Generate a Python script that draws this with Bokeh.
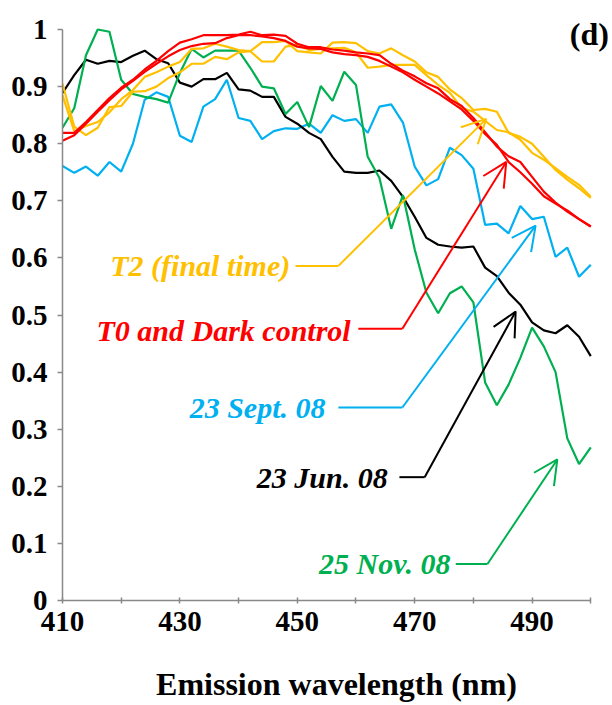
from bokeh.plotting import figure
from bokeh.models import Range1d, FixedTicker, Label, Arrow, OpenHead
from bokeh.embed import file_html
from bokeh.resources import INLINE

# ---------------- data ----------------
wavelength = [410, 412, 414, 416, 418, 420, 422, 424, 426, 428, 430, 432, 434, 436, 438,
              440, 442, 444, 446, 448, 450, 452, 454, 456, 458, 460, 462, 464, 466, 468,
              470, 472, 474, 476, 478, 480, 482, 484, 486, 488, 490, 492, 494, 496, 498, 500]

sept_23 = [0.761, 0.749, 0.760, 0.744, 0.768, 0.751,
           0.800, 0.877, 0.890, 0.882, 0.814, 0.803, 0.865, 0.878, 0.912, 0.845,
           0.840, 0.808, 0.822, 0.827, 0.826, 0.835, 0.819, 0.850, 0.840, 0.843,
           0.819, 0.865, 0.869, 0.837, 0.760, 0.727, 0.738, 0.793, 0.780, 0.756,
           0.658, 0.660, 0.643, 0.691, 0.668, 0.672, 0.602, 0.618, 0.567, 0.588]

jun_23 = [0.889, 0.920, 0.947, 0.940, 0.945, 0.943,
          0.954, 0.963, 0.948, 0.941, 0.907, 0.900, 0.913, 0.913, 0.924, 0.895,
          0.893, 0.882, 0.882, 0.847, 0.835, 0.819, 0.808, 0.777, 0.751, 0.749,
          0.749, 0.753, 0.735, 0.707, 0.672, 0.635, 0.623, 0.620, 0.618, 0.620,
          0.583, 0.568, 0.539, 0.518, 0.487, 0.473, 0.468, 0.482, 0.462, 0.428]

nov_25 = [0.828, 0.862, 0.955, 1.000, 0.996, 0.912,
          0.887, 0.882, 0.878, 0.872, 0.924, 0.966, 0.951, 0.963, 0.963, 0.963,
          0.933, 0.900, 0.897, 0.852, 0.873, 0.829, 0.901, 0.875, 0.926, 0.903,
          0.777, 0.740, 0.651, 0.710, 0.615, 0.539, 0.503, 0.538, 0.550, 0.522,
          0.382, 0.342, 0.378, 0.425, 0.478, 0.445, 0.400, 0.284, 0.239, 0.268]

t0 = [0.819, 0.819, 0.838, 0.859, 0.880, 0.898,
      0.912, 0.930, 0.945, 0.962, 0.977, 0.983, 0.990, 0.990, 0.990, 0.991,
      0.996, 0.990, 0.991, 0.989, 0.975, 0.969, 0.969, 0.965, 0.963, 0.960,
      0.958, 0.955, 0.940, 0.928, 0.918, 0.906, 0.897, 0.878, 0.866, 0.845,
      0.820, 0.795, 0.778, 0.768, 0.742, 0.716, 0.697, 0.681, 0.668, 0.655]

dark_control = [0.805, 0.815, 0.835, 0.856, 0.876, 0.895,
                0.910, 0.926, 0.940, 0.953, 0.964, 0.971, 0.975, 0.976, 0.985, 0.990,
                0.990, 0.988, 0.985, 0.980, 0.970, 0.967, 0.966, 0.960, 0.957, 0.955,
                0.952, 0.945, 0.935, 0.925, 0.912, 0.900, 0.888, 0.874, 0.860, 0.840,
                0.817, 0.798, 0.768, 0.750, 0.730, 0.708, 0.695, 0.683, 0.668, 0.655]

t2_a = [0.905, 0.830, 0.815, 0.828, 0.864, 0.866,
        0.891, 0.892, 0.900, 0.915, 0.925, 0.940, 0.940, 0.952, 0.948, 0.960,
        0.962, 0.978, 0.978, 0.980, 0.962, 0.960, 0.958, 0.977, 0.978, 0.976,
        0.962, 0.958, 0.967, 0.955, 0.944, 0.925, 0.917, 0.895, 0.880, 0.859,
        0.861, 0.856, 0.819, 0.812, 0.800, 0.777, 0.754, 0.737, 0.722, 0.705]

t2_b = [0.885, 0.822, 0.831, 0.838, 0.855, 0.878,
        0.894, 0.917, 0.925, 0.935, 0.943, 0.966, 0.967, 0.975, 0.970, 0.964,
        0.962, 0.944, 0.944, 0.970, 0.973, 0.964, 0.966, 0.967, 0.968, 0.960,
        0.933, 0.935, 0.938, 0.938, 0.938, 0.920, 0.903, 0.889, 0.863, 0.856,
        0.840, 0.824, 0.820, 0.807, 0.784, 0.772, 0.757, 0.742, 0.728, 0.707]

x_ticks = [410, 420, 430, 440, 450, 460, 470, 480, 490, 500]
x_tick_labels = ["410", "", "430", "", "450", "", "470", "", "490", ""]
y_ticks = [0, 0.1, 0.2, 0.3, 0.4, 0.5, 0.6, 0.7, 0.8, 0.9, 1]
y_tick_labels = ["0", "0.1", "0.2", "0.3", "0.4", "0.5", "0.6", "0.7", "0.8", "0.9", "1"]

# annotation texts: (text, colour, text right x, baseline y, leader start x, corner x, leader y, tip x, tip y)
annotations = [
    ("T2 (final time)", "#FFC000", 448.8, 0.586, 449.7, 457.0, 0.586, 482.2, 0.8435),
    ("T0 and Dark control", "#FF0000", 459.1, 0.473, 460.4, 467.9, 0.476, 485.6, 0.768),
    ("23 Sept. 08", "#00B0F0", 454.8, 0.338, 457.0, 467.9, 0.338, 490.6, 0.6565),
    ("23 Jun. 08", "#000000", 465.4, 0.216, 467.4, 471.7, 0.216, 487.2, 0.506),
    ("25 Nov. 08", "#00B050", 476.1, 0.064, 477.0, 482.4, 0.064, 494.3, 0.247),
]
panel_tag = ("(d)", 503.1, 0.993)

FONT = "Liberation Serif"

p = figure(width=612, height=705, output_backend="svg", toolbar_location=None,
           x_range=Range1d(410, 503.36), y_range=Range1d(0, 1.0508),
           min_border_left=62, min_border_right=2, min_border_top=0, min_border_bottom=105)
p.outline_line_color = None
p.xgrid.visible = False
p.ygrid.visible = False
p.background_fill_color = "white"
p.border_fill_color = "white"

series = [
    (sept_23, "#00B0F0"),
    (jun_23, "#000000"),
    (nov_25, "#00B050"),
    (t2_a, "#FFC000"),
    (t2_b, "#FFC000"),
    (t0, "#FF0000"),
    (dark_control, "#FF0000"),
]
for ys, col in series:
    p.line(wavelength, ys, line_color=col, line_width=2.2)

for (txt, col, tx, ty, sx, cx, ly, ax, ay) in annotations:
    p.add_layout(Label(x=tx, y=ty, text=txt, text_color=col, text_font=FONT,
                       text_font_size="30px", text_font_style="bold italic",
                       text_align="right", text_baseline="alphabetic"))
    p.line([sx, cx], [ly, ly], line_color=col, line_width=2)
    p.add_layout(Arrow(x_start=cx, y_start=ly, x_end=ax, y_end=ay,
                       line_color=col, line_width=2,
                       end=OpenHead(size=24, line_color=col, line_width=2)))

p.add_layout(Label(x=panel_tag[1], y=panel_tag[2], text=panel_tag[0], text_color="black",
                   text_font=FONT, text_font_size="32px", text_font_style="bold",
                   text_align="right", text_baseline="alphabetic"))

axis_col = "#898989"
xa = p.xaxis[0]
xa.bounds = (410, 500)
xa.ticker = FixedTicker(ticks=x_ticks)
xa.major_label_overrides = {t: l for t, l in zip(x_ticks, x_tick_labels)}
xa.minor_tick_line_color = None
xa.major_tick_in = 3
xa.major_tick_out = 3
xa.axis_line_color = axis_col
xa.major_tick_line_color = axis_col
xa.axis_line_width = 1.5
xa.major_tick_line_width = 1.5
xa.major_label_text_font = FONT
xa.major_label_text_font_style = "bold"
xa.major_label_text_font_size = "29px"
xa.major_label_text_color = "black"
xa.major_label_standoff = 8
xa.axis_label = "Emission wavelength (nm)"
xa.axis_label_text_font = FONT
xa.axis_label_text_font_style = "bold"
xa.axis_label_text_font_size = "32px"
xa.axis_label_text_color = "black"
xa.axis_label_standoff = 32

ya = p.yaxis[0]
ya.bounds = (0, 1)
ya.ticker = FixedTicker(ticks=y_ticks)
ya.major_label_overrides = {t: l for t, l in zip(y_ticks, y_tick_labels)}
ya.minor_tick_line_color = None
ya.major_tick_in = 0
ya.major_tick_out = 5
ya.axis_line_color = axis_col
ya.major_tick_line_color = axis_col
ya.axis_line_width = 1.5
ya.major_tick_line_width = 1.5
ya.major_label_text_font = FONT
ya.major_label_text_font_style = "bold"
ya.major_label_text_font_size = "29px"
ya.major_label_text_color = "black"
ya.major_label_standoff = 10

open("out.html", "w").write(file_html(p, INLINE))
